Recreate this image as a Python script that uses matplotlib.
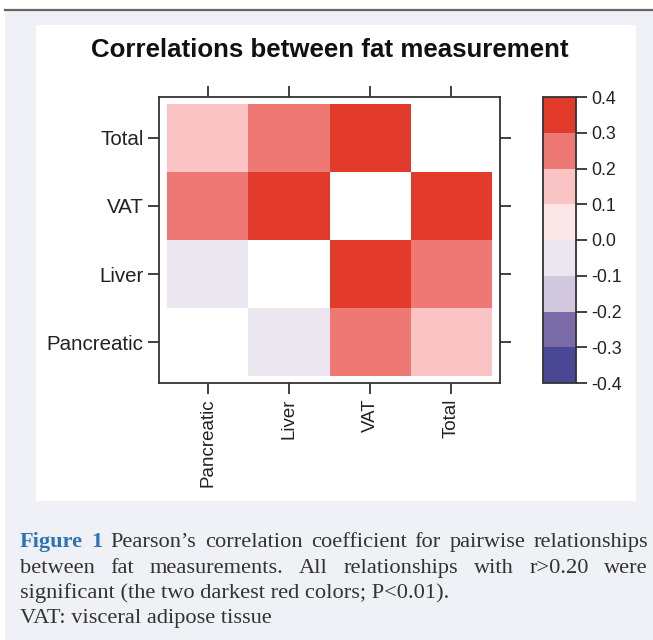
import numpy as np
import matplotlib
matplotlib.use('Agg')
import matplotlib.pyplot as plt
from matplotlib.colors import ListedColormap, BoundaryNorm
from matplotlib.patches import Rectangle
from matplotlib.lines import Line2D

plt.rcParams['axes.unicode_minus'] = False
plt.rcParams['font.family'] = ['Liberation Sans', 'DejaVu Sans']

# Data
measures = ['Pancreatic', 'Liver', 'VAT', 'Total']
pair_a = ['Pancreatic', 'Pancreatic', 'Pancreatic', 'Liver', 'Liver', 'VAT']
pair_b = ['Liver', 'VAT', 'Total', 'VAT', 'Total', 'Total']
pair_r = [-0.05, 0.25, 0.15, 0.35, 0.25, 0.35]

levels = [-0.4, -0.3, -0.2, -0.1, 0.0, 0.1, 0.2, 0.3, 0.4]
level_colors = ['#4a4894', '#7a6ba8', '#d1c7df', '#ebe6f0',
                '#fde6e7', '#fbc4c4', '#ee7873', '#e23b2c']

title = 'Correlations between fat measurement'
# words + bold-blue flags for the justified lines, plain strings for left-aligned ones
cap_line1 = ['Figure', '1', 'Pearson\u2019s', 'correlation', 'coefficient', 'for',
             'pairwise', 'relationships']
cap_line1_fig = [True, True, False, False, False, False, False, False]
cap_line2 = 'between fat measurements. All relationships with r>0.20 were'.split()
cap_line3 = 'significant (the two darkest red colors; P<0.01).'
cap_line4 = 'VAT: visceral adipose tissue'

W, H = 653, 640
fig = plt.figure(figsize=(W / 100, H / 100), dpi=100)
fig.patch.set_facecolor('white')


def fx(px):
    return px / W


def fy(py):
    return 1 - py / H


# page background, panel and top rule
fig.patches.append(Rectangle((fx(5), 0), 1 - fx(5), fy(11), transform=fig.transFigure,
                             facecolor='#f0f1f6', edgecolor='none', zorder=-3))
fig.patches.append(Rectangle((fx(36), fy(501)), fx(600), (501 - 25) / H, transform=fig.transFigure,
                             facecolor='white', edgecolor='none', zorder=-2))
fig.lines.append(Line2D([fx(5), 1], [fy(10), fy(10)], transform=fig.transFigure,
                        color='#666666', lw=1.6))

# correlation matrix, diagonal left empty
n = len(measures)
mat = np.full((n, n), np.nan)
for a, b, r in zip(pair_a, pair_b, pair_r):
    i, j = measures.index(a), measures.index(b)
    mat[i, j] = r
    mat[j, i] = r

cmap = ListedColormap(level_colors)
norm = BoundaryNorm(levels, cmap.N)

ax = fig.add_axes([fx(159), fy(383), (500 - 159) / W, (383 - 97) / H])
edges = np.arange(n + 1) + 0.5
mesh = ax.pcolormesh(edges, edges, np.ma.masked_invalid(mat), cmap=cmap, norm=norm)
ax.set_xlim(0.4, n + 0.6)
ax.set_ylim(0.4, n + 0.6)
ax.set_xticks(np.arange(1, n + 1))
ax.set_yticks(np.arange(1, n + 1))
ax.set_xticklabels(measures, rotation=90, fontsize=13.5, color='#222222')
ax.set_yticklabels(measures, fontsize=14.8, color='#222222')
ax.tick_params(direction='out', top=True, right=True, length=8, width=1.3,
               color='#333333', pad=3)
for s in ax.spines.values():
    s.set_color('#333333')
    s.set_linewidth(1.3)

# colour key
cax = fig.add_axes([fx(543), fy(383), (576 - 543) / W, (383 - 97) / H])
cb = fig.colorbar(mesh, cax=cax, ticks=levels, format='%.1f')
cb.outline.set_edgecolor('#333333')
cb.outline.set_linewidth(1.3)
cax.tick_params(length=8, width=1.3, color='#333333', labelsize=12.8, labelcolor='#222222', pad=3)

fig.text(fx(330), fy(50), title, ha='center', va='center', fontsize=18.6,
         fontweight='bold', color='#111111')

# caption, justified like the journal page
renderer = fig.canvas.get_renderer()
serif = ['Liberation Serif', 'DejaVu Serif']
txt_col = '#333333'
x0, x1 = 20, 648

# size the caption font so the last line spans what it does on the page
probe = fig.text(0, 0, cap_line4, family=serif, fontsize=15)
cap_size = 15 * 253 / probe.get_window_extent(renderer).width
probe.remove()


def justified(words, flags, base):
    texts = []
    for w, f in zip(words, flags):
        texts.append(fig.text(fx(x0), fy(base), w, family=serif, fontsize=cap_size,
                              va='baseline', color='#2e74b5' if f else txt_col,
                              fontweight='bold' if f else 'normal'))
    widths = [t.get_window_extent(renderer).width for t in texts]
    gap = (x1 - x0 - sum(widths)) / (len(texts) - 1)
    x = x0
    for t, wd in zip(texts, widths):
        t.set_x(fx(x))
        x += wd + gap


justified(cap_line1, cap_line1_fig, 547)
justified(cap_line2, [False] * len(cap_line2), 573)
fig.text(fx(x0), fy(598), cap_line3, family=serif, fontsize=cap_size, va='baseline', color=txt_col)
fig.text(fx(x0), fy(623), cap_line4, family=serif, fontsize=cap_size, va='baseline', color=txt_col)

fig.savefig('out.png', dpi=100)
